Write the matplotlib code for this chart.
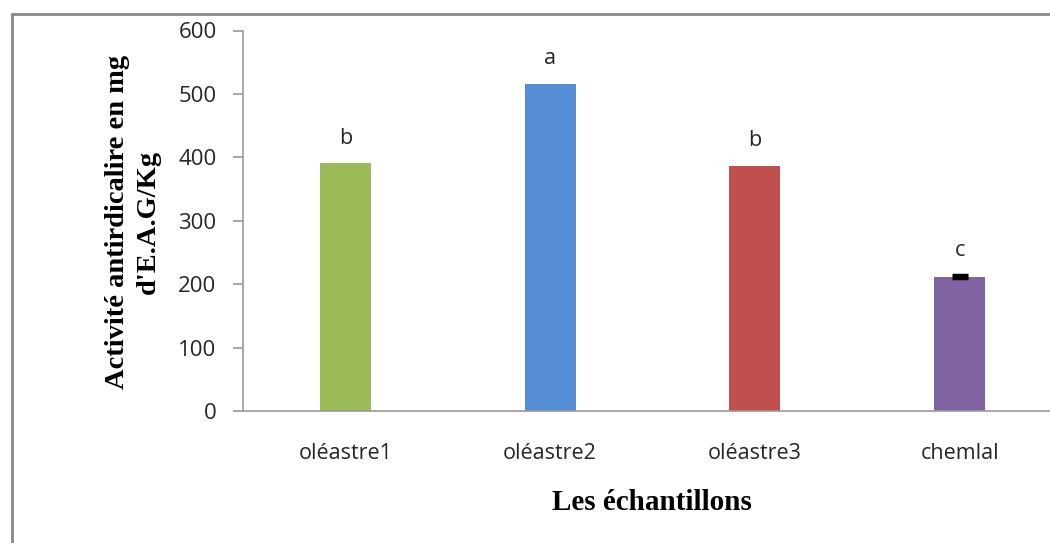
import matplotlib
matplotlib.use("Agg")
import matplotlib.pyplot as plt
from matplotlib.lines import Line2D

categories = ["oléastre1", "oléastre2", "oléastre3", "chemlal"]
values = [391, 516, 387, 212]
errors = [0, 0, 0, 2]
letters = ["b", "a", "b", "c"]
colors = ["#9BBB59", "#548DD4", "#C0504D", "#8064A2"]
yticks = [0, 100, 200, 300, 400, 500, 600]

W, H = 1050, 543
fig = plt.figure(figsize=(W / 100, H / 100), dpi=100)

# outer frame (left and top borders visible)
fig.add_artist(Line2D([12 / W, 12 / W], [0, 1 - 14 / H], transform=fig.transFigure,
                      color="#8a8a8a", lw=2))
fig.add_artist(Line2D([12 / W, 1.0], [1 - 14 / H, 1 - 14 / H], transform=fig.transFigure,
                      color="#8a8a8a", lw=2))

left, right = 243 / W, 1062 / W
bottom, top = 1 - 411 / H, 1 - 30.5 / H
ax = fig.add_axes([left, bottom, right - left, top - bottom])

x = list(range(len(categories)))
ax.bar(x, values, width=0.25, color=colors, zorder=2)
for xi, v, e in zip(x, values, errors):
    if e > 0:
        ax.errorbar(xi, v, yerr=e, fmt="none", ecolor="black", elinewidth=1.5,
                    capsize=6, capthick=2.5, zorder=3)

for xi, v, e, lab in zip(x, values, errors, letters):
    ax.annotate(lab, (xi, v + e), xytext=(0, 25), textcoords="offset pixels",
                ha="center", va="center", fontsize=15.5, color="#262626",
                family="Open Sans")

ax.set_xlim(-0.5, 3.5)
ax.set_ylim(0, 600)
ax.set_yticks(yticks)
ax.set_xticks(x)
ax.set_xticklabels(categories, family="Open Sans", fontsize=15.5, color="#262626")
ax.set_yticklabels([str(t) for t in yticks], family="Open Sans", fontsize=16, color="#262626")

for s in ["top", "right"]:
    ax.spines[s].set_visible(False)
for s in ["left", "bottom"]:
    ax.spines[s].set_color("#9a9a9a")
    ax.spines[s].set_linewidth(1.2)
ax.tick_params(axis="y", length=7, width=1.2, color="#9a9a9a", pad=12)
ax.tick_params(axis="x", length=0, pad=23)

fig.text(133 / W, 1 - 222 / H, "Activité antirdicalire en mg\nd'E.A.G/Kg",
         rotation=90, ha="center", va="center", fontsize=20.5, fontweight="bold",
         family="Liberation Serif", linespacing=1.35)
fig.text(652 / W, 1 - 503 / H, "Les échantillons", ha="center", va="center",
         fontsize=21, fontweight="bold", family="Liberation Serif")

fig.savefig("out.png", dpi=100)
